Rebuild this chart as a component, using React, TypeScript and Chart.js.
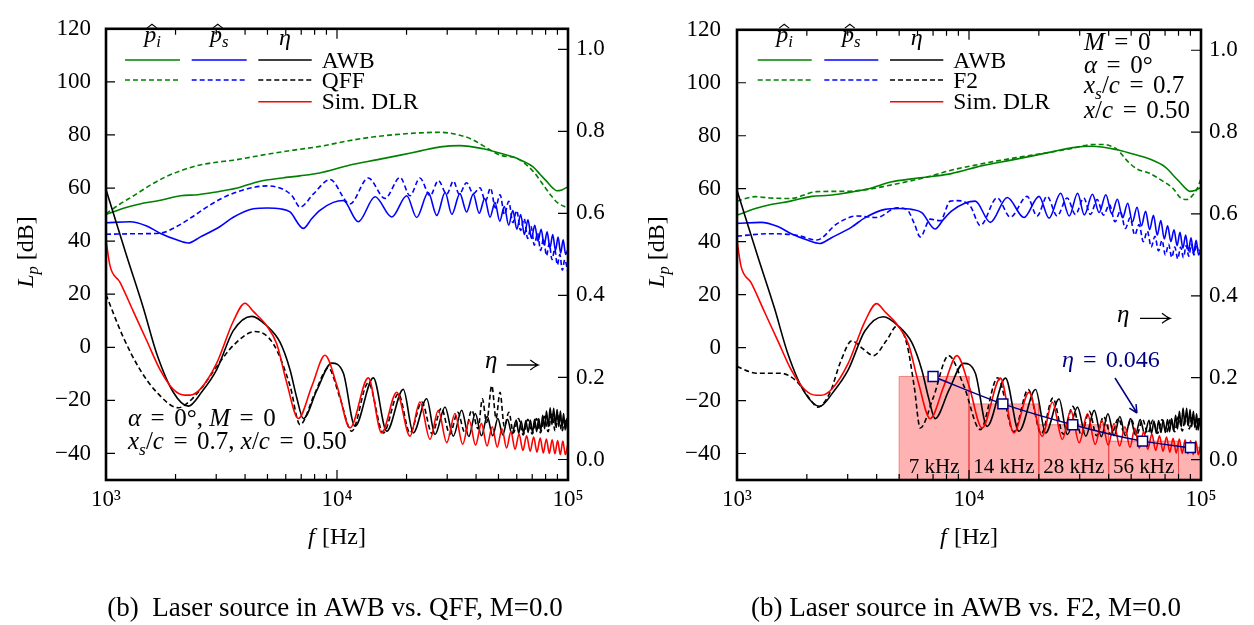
import React, { useEffect, useRef } from 'react';
import { Chart, registerables } from 'chart.js';

Chart.register(...registerables);

const SERIF = '"Liberation Serif", "Times New Roman", Times, serif';

// ---------- axes ----------
const xTicks = [1000, 10000, 100000];
const xTickLabels = ['10³', '10⁴', '10⁵'];
const yTicksDb = [-40, -20, 0, 20, 40, 60, 80, 100, 120];
const yTicksEta = [0, 0.2, 0.4, 0.6, 0.8, 1.0];

// ---------- p_i (AWB, shared) ----------
const piAwbF = [1000, 1200, 1400, 1700, 2100, 2500, 2900, 3700, 4600, 5800, 6900, 8400, 11400, 15000, 18800, 23000, 28000, 34000, 43000, 50000, 60000, 70600, 76000, 80700, 86000, 89300, 94000, 100000];
const piAwbV = [50.0, 52.5, 54.0, 55.3, 57.1, 57.5, 58.3, 60.0, 62.5, 63.8, 64.6, 65.7, 68.7, 70.7, 72.4, 74.0, 75.5, 76.0, 74.8, 73.3, 71.2, 68.0, 65.0, 62.6, 60.0, 59.0, 59.3, 60.5];

// p_i QFF (left)
const piQffF = [1000, 1150, 1312, 1550, 1832, 2150, 2553, 3000, 3556, 4966, 6500, 8433, 11380, 14500, 18750, 23000, 27930, 34040, 38500, 42850, 50830, 59980, 70630, 77000, 83560, 90000, 100000];
const piQffV = [50.3, 54.0, 57.0, 61.0, 64.4, 66.8, 68.7, 69.7, 70.5, 72.7, 74.3, 75.7, 77.9, 79.3, 80.3, 80.8, 81.0, 79.9, 78.3, 76.0, 72.4, 71.2, 66.3, 62.0, 57.7, 54.5, 52.5];

// p_i F2 (right)
const piF2F = [1000, 1200, 1388, 1700, 2208, 2800, 3508, 4500, 5768, 7000, 8298, 10500, 13210, 17000, 21730, 27000, 34510, 38100, 41000, 43550, 46000, 48080, 53090, 60000, 69180, 76000, 81660, 87300, 92000, 96380, 100000];
const piF2V = [55.3, 57.0, 56.5, 56.3, 58.9, 59.0, 59.5, 61.2, 63.2, 65.0, 66.9, 68.8, 70.5, 72.1, 73.6, 75.0, 76.7, 76.7, 76.0, 74.8, 72.5, 70.5, 67.4, 65.8, 62.6, 60.0, 56.5, 55.9, 57.5, 60.1, 63.8];

// ---------- p_s (AWB, shared) ----------
const psAwbF = [1000, 1271, 1500, 1714, 2023, 2270, 2553, 3119, 3556, 4345, 5000, 5662, 6260, 7145, 7779, 8433, 9638, 10640, 12360, 14620, 17260, 20040, 22130, 24830, 27040, 29380, 31410, 34040, 36390, 38900, 41250, 43600, 45950, 48300, 50650, 53000, 55350, 57700, 60050, 62400, 64750, 67100, 69450, 71800, 74150, 76500, 78850, 81200, 83550, 85900, 88250, 90600, 92950, 95300, 97650, 100000];
const psAwbV = [46.9, 47.3, 45.7, 43.0, 40.5, 39.3, 41.5, 45.5, 49.0, 52.2, 52.5, 52.2, 51.0, 44.8, 48.5, 51.6, 54.6, 55.3, 47.3, 56.7, 49.1, 57.1, 48.9, 58.3, 49.7, 58.3, 50.1, 57.9, 51.0, 57.7, 50.5, 56, 49, 54.5, 47.5, 53, 46, 51.5, 44.5, 50, 42.5, 48, 41, 46, 40, 44.5, 38.5, 43.5, 37.5, 42.5, 36.5, 41.5, 35.5, 40.5, 35, 37];

// p_s QFF (left)
const psQffF = [1000, 1400, 1714, 2023, 2350, 2729, 3200, 3802, 4966, 5861, 6400, 6918, 7889, 9333, 11380, 13650, 16140, 18750, 20700, 22860, 25290, 27480, 29850, 31920, 33810, 36390, 38900, 41590, 43900, 46200, 48500, 50800, 53100, 55400, 57700, 60000, 62300, 64600, 66900, 69200, 71500, 73800, 76100, 78400, 80700, 83000, 85300, 87600, 89900, 92200, 94500, 96800, 100000];
const psQffV = [42.6, 42.8, 43.0, 45.5, 49.0, 52.8, 56.3, 58.9, 60.8, 59.5, 57.0, 52.8, 57.7, 63.2, 54.0, 63.8, 56.1, 64.0, 57.1, 63.8, 57.1, 62.8, 57.7, 62.6, 57.7, 62.0, 57.9, 60.1, 55, 60, 52.5, 57.5, 50, 55, 47, 51.5, 44, 48.5, 41, 45.5, 38.5, 43, 36.5, 41, 34.5, 39, 33, 37, 31, 35, 29, 33, 28];

// p_s F2 (right)
const psF2F = [1000, 1388, 1812, 2208, 2692, 3289, 4009, 4887, 5395, 5800, 6166, 6808, 7516, 8298, 8872, 10130, 11190, 13210, 15080, 17800, 19660, 21710, 23980, 26490, 28760, 31240, 33390, 35680, 38000, 40300, 42600, 44900, 47200, 49500, 51800, 54100, 56400, 58700, 61000, 63300, 65600, 67900, 70200, 72500, 74800, 77100, 79400, 81700, 84000, 86300, 88600, 90900, 93200, 95500, 97800, 100000];
const psF2V = [42.1, 43.0, 42.4, 40.6, 46.7, 49.7, 49.1, 52.8, 52.2, 47.0, 41.8, 48.5, 47.9, 55.3, 55.5, 53.4, 46.1, 56.5, 49.3, 57.1, 49.7, 57.1, 49.7, 56.5, 50.3, 56.5, 50.3, 55.9, 50, 54, 47.5, 51.5, 45, 49, 42.5, 46.5, 40, 44, 38, 42, 36.5, 40.5, 35, 39, 34, 38, 33.5, 38, 34, 38.5, 34.5, 39, 35, 39, 36, 37.5];

// ---------- eta AWB (shared) ----------
const etaAwbF = [1000, 1229, 1450, 1658, 1956, 2271, 2600, 3015, 3557, 4273, 4963, 5665, 6260, 6700, 7145, 8200, 9484, 10650, 11970, 14360, 16420, 19360, 21390, 24450, 26560, 29350, 31880, 34660, 37200, 39700, 42200, 44700, 47200, 49700, 52200, 54700, 57200, 59700, 61200, 62700, 64200, 65700, 67200, 68700, 70200, 71700, 73200, 74700, 76200, 77700, 79200, 80700, 82200, 83700, 85200, 86700, 88200, 89700, 91200, 92700, 94200, 95700, 97200, 98700, 100000];
const etaAwbV = [0.658, 0.496, 0.370, 0.258, 0.164, 0.130, 0.165, 0.219, 0.314, 0.349, 0.326, 0.286, 0.219, 0.150, 0.100, 0.170, 0.235, 0.211, 0.081, 0.199, 0.069, 0.171, 0.065, 0.148, 0.061, 0.128, 0.057, 0.120, 0.056, 0.112, 0.058, 0.105, 0.058, 0.100, 0.060, 0.098, 0.062, 0.096, 0.064, 0.094, 0.064, 0.095, 0.066, 0.096, 0.066, 0.098, 0.068, 0.100, 0.070, 0.108, 0.075, 0.118, 0.080, 0.126, 0.085, 0.125, 0.082, 0.122, 0.080, 0.118, 0.078, 0.112, 0.072, 0.100, 0.075];

// eta QFF (left)
const etaQffF = [1000, 1188, 1404, 1658, 2056, 2236, 2600, 3015, 3557, 4416, 5300, 6260, 6917, 8000, 9169, 10300, 11580, 13660, 15870, 18430, 20700, 23300, 25800, 28300, 30800, 33300, 35800, 38300, 40800, 42600, 44400, 46800, 48800, 50800, 53000, 55500, 58000, 61000, 64000, 67000, 70000, 73000, 76000, 79000, 82000, 85000, 88000, 91000, 94000, 97000, 100000];
const etaQffV = [0.402, 0.298, 0.219, 0.164, 0.126, 0.136, 0.175, 0.227, 0.278, 0.312, 0.282, 0.180, 0.085, 0.160, 0.223, 0.150, 0.069, 0.187, 0.065, 0.160, 0.065, 0.140, 0.063, 0.125, 0.062, 0.115, 0.065, 0.120, 0.075, 0.148, 0.090, 0.180, 0.100, 0.164, 0.080, 0.115, 0.065, 0.100, 0.060, 0.098, 0.062, 0.100, 0.065, 0.105, 0.068, 0.110, 0.070, 0.110, 0.068, 0.095, 0.070];

// eta F2 (right)
const etaF2F = [1000, 1216, 1533, 1810, 2050, 2230, 2518, 2800, 3126, 3500, 3876, 4400, 4890, 5399, 5800, 6164, 7000, 8166, 9500, 11190, 13300, 15600, 18000, 20500, 23000, 25500, 28000, 30500, 33000, 35500, 38000, 41000, 44000, 47000, 50000, 53000, 56000, 59000, 62000, 65000, 68000, 71000, 74000, 77000, 80000, 83000, 86000, 89000, 92000, 95000, 98000, 100000];
const etaF2V = [0.227, 0.211, 0.211, 0.191, 0.150, 0.128, 0.164, 0.240, 0.290, 0.270, 0.254, 0.290, 0.326, 0.282, 0.180, 0.077, 0.150, 0.254, 0.180, 0.073, 0.200, 0.068, 0.171, 0.063, 0.150, 0.062, 0.130, 0.060, 0.118, 0.058, 0.105, 0.060, 0.100, 0.062, 0.098, 0.062, 0.098, 0.064, 0.096, 0.064, 0.098, 0.066, 0.100, 0.068, 0.105, 0.070, 0.108, 0.075, 0.110, 0.072, 0.100, 0.075];

// eta simulation DLR (shared)
const etaSimF = [1000, 1041, 1150, 1313, 1500, 1713, 1956, 2198, 2310, 2553, 3015, 3557, 3997, 4342, 4963, 5483, 6058, 6800, 7800, 8872, 10000, 11385, 13660, 15610, 18130, 20700, 22870, 25270, 27450, 29850, 32420, 35000, 37400, 39800, 42200, 44600, 47000, 49400, 51800, 54200, 56600, 59000, 61400, 63800, 66200, 68600, 71000, 73400, 75800, 78200, 80600, 83000, 85400, 87800, 90200, 92600, 95000, 97400, 100000];
const etaSimV = [0.535, 0.472, 0.432, 0.361, 0.290, 0.219, 0.171, 0.157, 0.157, 0.171, 0.235, 0.337, 0.381, 0.361, 0.326, 0.282, 0.187, 0.100, 0.180, 0.254, 0.180, 0.077, 0.199, 0.065, 0.164, 0.057, 0.140, 0.049, 0.120, 0.041, 0.112, 0.037, 0.095, 0.035, 0.088, 0.033, 0.080, 0.030, 0.075, 0.028, 0.068, 0.025, 0.062, 0.022, 0.058, 0.020, 0.055, 0.018, 0.052, 0.016, 0.050, 0.015, 0.048, 0.014, 0.046, 0.012, 0.045, 0.012, 0.040];

// ---------- octave bands (right) ----------
const barLo = [5000, 10000, 20000, 40000, 80000];
const barHi = [10000, 20000, 40000, 80000, 100000];
const barEta = [0.203, 0.136, 0.085, 0.045, 0.03];
const barLabels = ['7 kHz', '14 kHz', '28 kHz', '56 kHz', ''];
const markF = [7000, 14000, 28000, 56000, 90000];
const markEta = [0.203, 0.136, 0.085, 0.045, 0.029];

const captions = {
  L: '(b)  Laser source in AWB vs. QFF, M=0.0',
  R: '(b) Laser source in AWB vs. F2, M=0.0',
};

// ---------- helpers ----------
type Seg = [string, string] | number;
const EQ: Seg[] = [0.38, ['=', 'r'], 0.38];

function segFont(style: string, size: number) {
  const sub = style === 's' || style === 'sr';
  const it = style === 'i' || style === 's';
  return `${it ? 'italic ' : ''}${sub ? size * 0.7 : size}px ${SERIF}`;
}
function richWidth(ctx: CanvasRenderingContext2D, segs: Seg[], size: number) {
  let w = 0;
  for (const s of segs) {
    if (typeof s === 'number') w += s * size;
    else { ctx.font = segFont(s[1], size); w += ctx.measureText(s[0]).width; }
  }
  return w;
}
function drawRich(ctx: CanvasRenderingContext2D, x: number, y: number, segs: Seg[], size: number, align = 'left', color = '#000') {
  const w = richWidth(ctx, segs, size);
  let cx = align === 'left' ? x : align === 'center' ? x - w / 2 : x - w;
  ctx.fillStyle = color; ctx.textBaseline = 'alphabetic'; ctx.textAlign = 'left';
  for (const s of segs) {
    if (typeof s === 'number') { cx += s * size; continue; }
    ctx.font = segFont(s[1], size);
    const dy = (s[1] === 's' || s[1] === 'sr') ? size * 0.22 : 0;
    ctx.fillText(s[0], cx, y + dy);
    cx += ctx.measureText(s[0]).width;
  }
}
function drawPHat(ctx: CanvasRenderingContext2D, cx: number, y: number, size: number, sub: string) {
  const segs: Seg[] = [['p', 'i'], [sub, 's']];
  const w = richWidth(ctx, segs, size);
  const x0 = cx - w / 2;
  drawRich(ctx, x0, y, segs, size);
  ctx.font = segFont('i', size);
  const wp = ctx.measureText('p').width;
  const hc = x0 + wp * 0.65;
  ctx.beginPath();
  ctx.strokeStyle = '#000'; ctx.lineWidth = 1.1; ctx.setLineDash([]);
  ctx.moveTo(hc - 5, y - size * 0.58);
  ctx.lineTo(hc, y - size * 0.74);
  ctx.lineTo(hc + 5, y - size * 0.58);
  ctx.stroke();
}
function arrowRight(ctx: CanvasRenderingContext2D, x1: number, x2: number, y: number, color = '#000') {
  ctx.strokeStyle = color; ctx.lineWidth = 1.3; ctx.setLineDash([]);
  ctx.beginPath();
  ctx.moveTo(x1, y); ctx.lineTo(x2, y);
  ctx.moveTo(x2 - 8, y - 5); ctx.quadraticCurveTo(x2 - 3, y - 1, x2, y);
  ctx.quadraticCurveTo(x2 - 3, y + 1, x2 - 8, y + 5);
  ctx.stroke();
}
function arrowTo(ctx: CanvasRenderingContext2D, x1: number, y1: number, x2: number, y2: number, color: string) {
  const ang = Math.atan2(y2 - y1, x2 - x1);
  ctx.strokeStyle = color; ctx.lineWidth = 1.5; ctx.setLineDash([]);
  ctx.beginPath();
  ctx.moveTo(x1, y1); ctx.lineTo(x2, y2);
  for (const s of [-1, 1]) {
    ctx.moveTo(x2, y2);
    ctx.lineTo(x2 - 9 * Math.cos(ang + s * 0.45), y2 - 9 * Math.sin(ang + s * 0.45));
  }
  ctx.stroke();
}

const pts = (f: number[], v: number[]) => f.map((x, i) => ({ x, y: v[i] }));

function decor(panel: 'L' | 'R') {
  const isR = panel === 'R';
  return {
    id: 'decor' + panel,
    afterDraw(chart: any) {
      const ctx = chart.ctx as CanvasRenderingContext2D;
      const a = chart.chartArea;
      const xs = chart.scales.x, yL = chart.scales.y, yR = chart.scales.y1;
      const L = a.left;
      const MS = 25;
      ctx.save();
      ctx.setLineDash([]);
      // band labels
      if (isR) {
        ctx.font = `21px ${SERIF}`; ctx.fillStyle = '#000'; ctx.textAlign = 'center'; ctx.textBaseline = 'alphabetic';
        barLabels.forEach((t, i) => {
          if (!t) return;
          const x0 = xs.getPixelForValue(barLo[i]), x1 = xs.getPixelForValue(barHi[i]);
          ctx.fillText(t, (x0 + x1) / 2, 473);
        });
      }
      // ticks
      ctx.strokeStyle = '#000'; ctx.lineWidth = 1.2;
      ctx.beginPath();
      for (const d of [1000, 10000]) {
        for (let m = 1; m <= 9; m++) {
          const px = xs.getPixelForValue(m * d);
          const len = m === 1 ? 10 : 6;
          ctx.moveTo(px, a.bottom); ctx.lineTo(px, a.bottom - len);
          ctx.moveTo(px, a.top); ctx.lineTo(px, a.top + len);
        }
      }
      for (const v of yTicksDb) { const py = yL.getPixelForValue(v); ctx.moveTo(a.left, py); ctx.lineTo(a.left + 9, py); }
      for (const v of yTicksEta) { const py = yR.getPixelForValue(v); ctx.moveTo(a.right, py); ctx.lineTo(a.right - 10, py); }
      ctx.stroke();
      // frame
      ctx.lineWidth = 2.6;
      ctx.strokeRect(a.left, a.top, a.right - a.left, a.bottom - a.top);

      // legend
      const cols = isR ? [[20.7, 74.7], [87.3, 141.3], [153, 206.3]] : [[19, 74], [85.7, 140.7], [152.3, 205.7]];
      const labX = isR ? 216.3 : 215.7;
      const rows = [60, 80, 101.7];
      const colColors = ['#008000', '#0000ff', '#000000'];
      const seg = (x1: number, x2: number, y: number, c: string, dash: boolean) => {
        ctx.beginPath(); ctx.strokeStyle = c; ctx.lineWidth = 1.6; ctx.setLineDash(dash ? [5, 3] : []);
        ctx.moveTo(x1, y); ctx.lineTo(x2, y); ctx.stroke();
      };
      cols.forEach((c, j) => {
        seg(L + c[0], L + c[1], rows[0], colColors[j], false);
        seg(L + c[0], L + c[1], rows[1], colColors[j], true);
      });
      seg(L + cols[2][0], L + cols[2][1], rows[2], '#ff0000', false);
      ctx.setLineDash([]);
      drawPHat(ctx, L + (cols[0][0] + cols[0][1]) / 2, 42, 24, 'i');
      drawPHat(ctx, L + (cols[1][0] + cols[1][1]) / 2, 42, 24, 's');
      drawRich(ctx, L + (cols[2][0] + cols[2][1]) / 2, 45, [['η', 'i']], 24, 'center');
      const names = ['AWB', isR ? 'F2' : 'QFF', 'Sim. DLR'];
      names.forEach((n, k) => drawRich(ctx, L + labX, rows[k] + 7.5, [[n, 'r']], 23.5, 'left'));

      // annotations
      if (!isR) {
        drawRich(ctx, L + 22, 426, [['α', 'i'], ...EQ, ['0°, ', 'r'], ['M', 'i'], ...EQ, ['0', 'r']], MS);
        drawRich(ctx, L + 22, 449, [['x', 'i'], ['s', 's'], ['/', 'r'], ['c', 'i'], ...EQ, ['0.7, ', 'r'], ['x', 'i'], ['/', 'r'], ['c', 'i'], ...EQ, ['0.50', 'r']], MS);
        drawRich(ctx, L + 379, 368, [['η', 'i']], MS);
        arrowRight(ctx, L + 400.7, L + 432.3, 365);
      } else {
        const ax = L + 347;
        drawRich(ctx, ax, 50, [['M', 'i'], ...EQ, ['0', 'r']], MS);
        drawRich(ctx, ax, 72.7, [['α', 'i'], ...EQ, ['0°', 'r']], MS);
        drawRich(ctx, ax, 93, [['x', 'i'], ['s', 's'], ['/', 'r'], ['c', 'i'], ...EQ, ['0.7', 'r']], MS);
        drawRich(ctx, ax, 118, [['x', 'i'], ['/', 'r'], ['c', 'i'], ...EQ, ['0.50', 'r']], MS);
        drawRich(ctx, L + 380, 322, [['η', 'i']], MS);
        arrowRight(ctx, L + 403, L + 433, 318.3);
        drawRich(ctx, L + 325, 366.7, [['η', 'i'], ...EQ, ['0.046', 'r']], 24, 'left', '#000080');
        arrowTo(ctx, L + 378, 378, L + 400, 413, '#000080');
      }

      // axis titles
      ctx.save();
      ctx.translate(L - 73, 252);
      ctx.rotate(-Math.PI / 2);
      drawRich(ctx, 0, 0, [['L', 'i'], ['p', 's'], 0.25, ['[dB]', 'r']], 24, 'center');
      ctx.restore();
      drawRich(ctx, (a.left + a.right) / 2, 544, [['f', 'i'], 0.3, ['[Hz]', 'r']], 24, 'center');

      // caption
      ctx.font = `27px ${SERIF}`; ctx.fillStyle = '#000'; ctx.textAlign = 'center'; ctx.textBaseline = 'alphabetic';
      ctx.fillText(captions[panel], isR ? 339 : 335, 616);
      ctx.restore();
    },
  };
}

function makeConfig(panel: 'L' | 'R') {
  const isR = panel === 'R';
  const yW = isR ? 110 : 106;
  const y1W = isR ? 53 : 59;
  const line = (data: any[], color: string, dash: boolean, axis: string) => ({
    type: 'line', data, borderColor: color, borderWidth: 1.6, borderDash: dash ? [5, 3] : [],
    pointRadius: 0, fill: false, cubicInterpolationMode: 'monotone', yAxisID: axis,
  });
  const datasets: any[] = [];
  if (isR) {
    datasets.push({
      type: 'line', data: pts(markF, markEta), yAxisID: 'y1', borderColor: '#000080', borderWidth: 1.5,
      pointStyle: 'rect', pointRadius: 7, pointBackgroundColor: '#ffffff', pointBorderColor: '#000080',
      pointBorderWidth: 1.5, fill: false, tension: 0.3, cubicInterpolationMode: 'monotone',
    });
  }
  datasets.push(line(pts(etaSimF, etaSimV), '#ff0000', false, 'y1'));
  datasets.push(isR ? line(pts(etaF2F, etaF2V), '#000000', true, 'y1') : line(pts(etaQffF, etaQffV), '#000000', true, 'y1'));
  datasets.push(line(pts(etaAwbF, etaAwbV), '#000000', false, 'y1'));
  datasets.push(isR ? line(pts(psF2F, psF2V), '#0000ff', true, 'y') : line(pts(psQffF, psQffV), '#0000ff', true, 'y'));
  datasets.push(line(pts(psAwbF, psAwbV), '#0000ff', false, 'y'));
  datasets.push(isR ? line(pts(piF2F, piF2V), '#008000', true, 'y') : line(pts(piQffF, piQffV), '#008000', true, 'y'));
  datasets.push(line(pts(piAwbF, piAwbV), '#008000', false, 'y'));
  if (isR) {
    barLo.forEach((lo, i) => {
      datasets.push({
        type: 'line', yAxisID: 'y1',
        data: [{ x: lo, y: -0.05 }, { x: lo, y: barEta[i] }, { x: barHi[i], y: barEta[i] }, { x: barHi[i], y: -0.05 }],
        borderColor: 'rgba(235,70,70,0.6)', borderWidth: 1, backgroundColor: 'rgba(255,0,0,0.3)',
        fill: 'start', pointRadius: 0, tension: 0,
      });
    });
  }
  const tickFont = { family: SERIF, size: 23 };
  return {
    type: 'line',
    data: { datasets },
    options: {
      animation: false, responsive: false, maintainAspectRatio: false, devicePixelRatio: 1,
      events: [],
      layout: { padding: { top: 17, left: 0, right: 0, bottom: 0 } },
      plugins: { legend: { display: false }, tooltip: { enabled: false } },
      scales: {
        x: {
          type: 'logarithmic', position: 'bottom', min: 1000, max: 100000,
          grid: { display: false, drawTicks: false }, border: { display: false },
          afterBuildTicks: (s: any) => { s.ticks = xTicks.map((v) => ({ value: v })); },
          afterFit: (s: any) => { s.height = 145; },
          ticks: {
            font: tickFont, color: '#000', padding: 6, maxRotation: 0, autoSkip: false,
            callback: (v: any) => { const i = xTicks.indexOf(Number(v)); return i >= 0 ? xTickLabels[i] : ''; },
          },
        },
        y: {
          type: 'linear', position: 'left', min: -50, max: 120,
          grid: { display: false, drawTicks: false }, border: { display: false },
          afterBuildTicks: (s: any) => { s.ticks = yTicksDb.map((v) => ({ value: v })); },
          afterFit: (s: any) => { s.width = yW; },
          ticks: {
            font: tickFont, color: '#000', padding: isR ? 16 : 15,
            callback: (v: any) => (Number(v) < 0 ? '\u2212' + Math.abs(Number(v)) : String(v)),
          },
        },
        y1: {
          type: 'linear', position: 'right', min: -0.05, max: 1.05,
          grid: { display: false, drawTicks: false }, border: { display: false },
          afterBuildTicks: (s: any) => { s.ticks = yTicksEta.map((v) => ({ value: v })); },
          afterFit: (s: any) => { s.width = y1W; },
          ticks: { font: tickFont, color: '#000', padding: 8, callback: (v: any) => Number(v).toFixed(1) },
        },
      },
    },
    plugins: [decor(panel)],
  };
}

export default function App() {
  const leftRef = useRef<HTMLCanvasElement>(null);
  const rightRef = useRef<HTMLCanvasElement>(null);
  useEffect(() => {
    const c1 = new Chart(leftRef.current as HTMLCanvasElement, makeConfig('L') as any);
    const c2 = new Chart(rightRef.current as HTMLCanvasElement, makeConfig('R') as any);
    return () => { c1.destroy(); c2.destroy(); };
  }, []);
  return (
    <div style={{ position: 'absolute', left: 0, top: 0, width: 1254, height: 625, background: '#fff', overflow: 'hidden' }}>
      <canvas ref={leftRef} width={627} height={625} style={{ position: 'absolute', left: 0, top: 0, width: 627, height: 625 }} />
      <canvas ref={rightRef} width={627} height={625} style={{ position: 'absolute', left: 627, top: 0, width: 627, height: 625 }} />
    </div>
  );
}
